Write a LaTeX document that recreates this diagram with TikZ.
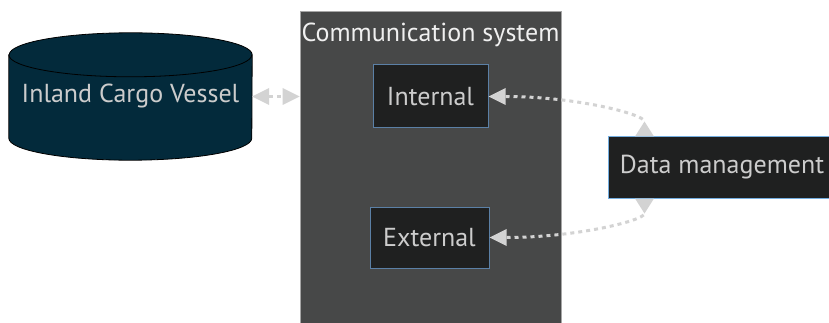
\documentclass[tikz,border=0pt]{standalone}
\usepackage{fontspec}
\setmainfont{PT Sans}
\usetikzlibrary{arrows.meta,positioning,calc,backgrounds}
\definecolor{vesselblue}{HTML}{032A3B}
\definecolor{clustergray}{HTML}{474848}
\definecolor{boxdark}{HTML}{1F2020}
\definecolor{edgegray}{HTML}{D3D3D3}
\definecolor{txtgray}{HTML}{CCCCCC}
\definecolor{innerline}{HTML}{5B80A6}
\definecolor{dataline}{HTML}{74AEE0}
\tikzset{
  >=Stealth,
  every node/.append style={font=\fontsize{26}{28}\selectfont},
}

\begin{document}
\begin{tikzpicture}[
  x=1pt, y=-1pt,
  cluster/.style ={draw=black!35, fill=clustergray, line width=0.8pt},
  inner/.style   ={draw=innerline, fill=boxdark, text=txtgray, line width=1pt},
  store/.style   ={draw=black, fill=vesselblue, line width=0.8pt},
  link/.style    ={draw=edgegray, line width=3pt, dash pattern=on 4pt off 4pt,
                   {Triangle[length=17pt,width=17pt,fill=edgegray,line width=0pt]}-{Triangle[length=17pt,width=17pt,fill=edgegray,line width=0pt]}},
  backlink/.style={draw=edgegray, line width=3pt, dash pattern=on 4pt off 4pt,
                   {Triangle[length=17pt,width=17pt,fill=edgegray,line width=0pt]}-{Triangle[reversed,length=15pt,width=19pt,fill=edgegray,line width=0pt]}}
]
\useasboundingbox (0,0) rectangle (829,323);

\node[cluster, minimum width=261pt, minimum height=322pt] (comm) at (430.5,172) {};
\node[text=white!94!black, anchor=north] (commtitle) at ([yshift=-9pt]comm.north) {Communication system};

\node[text=txtgray, minimum width=243pt, minimum height=127pt] (vessel) at (130.5,96.5) {Inland Cargo Vessel};
% cylinder round the vessel node
\begin{scope}[on background layer]
  \path[store] ([yshift=-22pt]vessel.north west) -- ([yshift=22pt]vessel.south west)
    arc[start angle=180, end angle=360, x radius=121.5pt, y radius=22pt]
    -- ([yshift=-22pt]vessel.north east)
    arc[start angle=0, end angle=180, x radius=121.5pt, y radius=22pt] -- cycle;
  \draw[line width=0.8pt] ([yshift=-22pt]vessel.north west)
    arc[start angle=180, end angle=360, x radius=121.5pt, y radius=22pt];
\end{scope}

\node[inner, minimum width=115pt, minimum height=63pt] (internal) at (430.5,96.5) {Internal};
\node[inner, minimum width=119pt, minimum height=61pt] (external) at (429.5,237.5) {External};

\node[draw=dataline, fill=boxdark, text=txtgray, line width=1pt,
      minimum width=228pt, minimum height=61pt] (data) at (722,167.5) {Data management};

\draw[link] (vessel.east) -- (vessel.east -| comm.west);

\draw[backlink] (internal.east) to[out=0, in=90, out looseness=1.4, in looseness=0.35]
  ($(data.north west)+(37,0)$);
\draw[backlink] (external.east) to[out=0, in=-90, out looseness=1.4, in looseness=0.35]
  ($(data.south west)+(37,0)$);

\end{tikzpicture}
\end{document}
